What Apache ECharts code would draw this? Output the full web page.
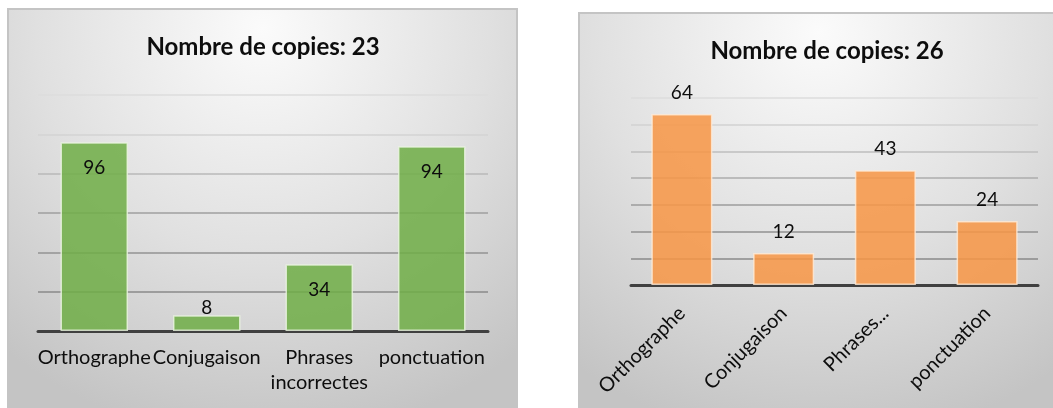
<!DOCTYPE html>
<html>
<head>
<meta charset="utf-8">
<script src="https://cdn.jsdelivr.net/npm/echarts@6/dist/echarts.min.js"></script>
<style>
  html, body { margin: 0; padding: 0; background: #fff; }
  #chart { width: 1053px; height: 408px; }
</style>
</head>
<body>
<div id="chart"></div>
<script>
// categories (same for both panels)
var categories = ['Orthographe', 'Conjugaison', 'Phrases incorrectes', 'ponctuation'];

// left panel: 23 copies
var titleLeft = 'Nombre de copies: 23';
var valuesLeft = [96, 8, 34, 94];
// right panel: 26 copies
var titleRight = 'Nombre de copies: 26';
var valuesRight = [64, 12, 43, 24];

var FONT = 'Lato, "Open Sans", sans-serif';

// gradient backgrounds for the two panels
function panelFill() {
	return new echarts.graphic.RadialGradient(0.5, 0.05, 1.0, [
		{ offset: 0, color: '#fbfbfb' },
		{ offset: 0.55, color: '#e0e0e0' },
		{ offset: 1, color: '#c4c4c4' }
	]);
}

// small bars get their value above the bar, others inside the top end
function leftData(vals) {
	return vals.map(function (v) {
		if (v < 15) {
			return { value: v, label: { position: 'top', distance: -2 } };
		}
		return v;
	});
}

var myChart = echarts.init(document.getElementById('chart'));

var option = {
	backgroundColor: '#ffffff',
	animation: false,
	graphic: [
		{ type: 'rect', z: -10, silent: true,
		  shape: { x: 8, y: 9, width: 509, height: 410 },
		  style: { fill: panelFill(), stroke: '#c4c4c4', lineWidth: 2 } },
		{ type: 'rect', z: -10, silent: true,
		  shape: { x: 579, y: 13, width: 480, height: 410 },
		  style: { fill: panelFill(), stroke: '#c4c4c4', lineWidth: 2 } },
		{ type: 'text', z: 10, x: 263, y: 47,
		  style: { text: titleLeft, font: 'bold 24px ' + FONT, fill: '#0d0d0d', align: 'center', verticalAlign: 'middle' } },
		{ type: 'text', z: 10, x: 827, y: 51,
		  style: { text: titleRight, font: 'bold 24px ' + FONT, fill: '#0d0d0d', align: 'center', verticalAlign: 'middle' } }
	],
	grid: [
		{ left: 38, right: 565, top: 95, bottom: 77 },
		{ left: 631, right: 15, top: 98, bottom: 123 }
	],
	xAxis: [
		{
			gridIndex: 0, type: 'category', data: categories,
			axisTick: { show: false },
			axisLine: { lineStyle: { color: '#404040', width: 3 } },
			axisLabel: {
				interval: 0, margin: 14, color: '#0d0d0d', fontFamily: FONT, fontSize: 20, lineHeight: 25,
				formatter: function (v) { return v.replace(' ', '\n'); }
			}
		},
		{
			gridIndex: 1, type: 'category', data: categories,
			axisTick: { show: false },
			axisLine: { lineStyle: { color: '#404040', width: 3 } },
			axisLabel: {
				interval: 0, margin: 25, rotate: 45, color: '#0d0d0d', fontFamily: FONT, fontSize: 20,
				formatter: function (v) { return v.indexOf(' ') > 0 ? v.split(' ')[0] + '...' : v; }
			}
		}
	],
	yAxis: [
		{
			gridIndex: 0, type: 'value', min: 0, max: 120, interval: 20,
			axisLabel: { show: false }, axisLine: { show: false }, axisTick: { show: false },
			splitLine: { lineStyle: { width: 1.5, color: ['#8a8a8a', '#8a8a8a', '#939393', '#9f9f9f', '#b8b8b8', '#d3d3d3', '#dcdcdc'] } }
		},
		{
			gridIndex: 1, type: 'value', min: 0, max: 70, interval: 10,
			axisLabel: { show: false }, axisLine: { show: false }, axisTick: { show: false },
			splitLine: { lineStyle: { width: 1.5, color: ['#8a8a8a', '#8a8a8a', '#909090', '#9c9c9c', '#acacac', '#bebebe', '#d2d2d2', '#dcdcdc'] } }
		}
	],
	series: [
		{
			type: 'bar', xAxisIndex: 0, yAxisIndex: 0,
			data: leftData(valuesLeft),
			barCategoryGap: '40%',
			itemStyle: { color: 'rgba(112,173,71,0.86)', borderColor: 'rgba(235,245,225,0.8)', borderWidth: 1.5 },
			label: { show: true, position: 'insideTop', distance: 16, color: '#0d0d0d', fontFamily: FONT, fontSize: 19 }
		},
		{
			type: 'bar', xAxisIndex: 1, yAxisIndex: 1,
			data: valuesRight,
			barCategoryGap: '40%',
			itemStyle: { color: 'rgba(247,150,70,0.86)', borderColor: 'rgba(255,235,215,0.8)', borderWidth: 1.5 },
			label: { show: true, position: 'top', distance: 12, color: '#0d0d0d', fontFamily: FONT, fontSize: 19 }
		}
	]
};

myChart.setOption(option);
</script>
</body>
</html>
